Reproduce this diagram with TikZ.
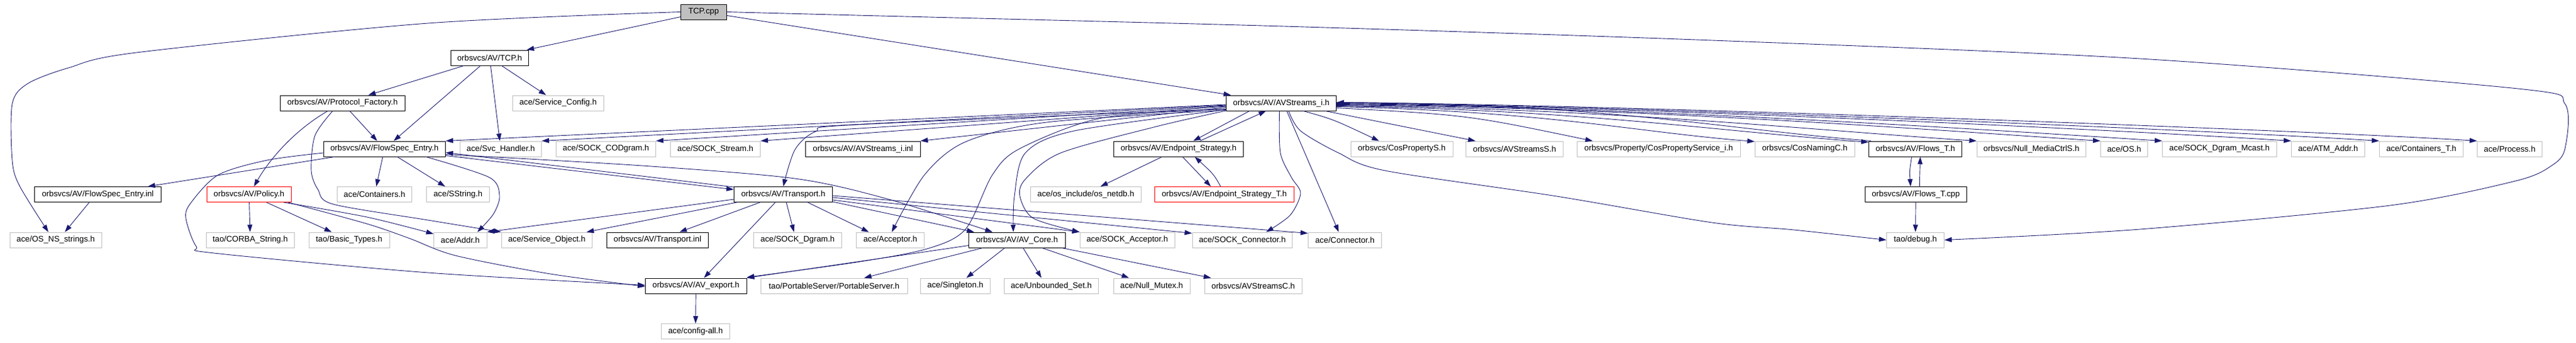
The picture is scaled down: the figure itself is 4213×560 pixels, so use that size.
\documentclass[tikz,border=0pt]{standalone}
\usepackage{fontspec}
\setmainfont{Liberation Sans}
\usetikzlibrary{arrows.meta}
\definecolor{navy}{HTML}{191970}
\definecolor{gbord}{HTML}{BFBFBF}
\definecolor{gfill}{HTML}{BFBFBF}
\tikzset{
  nd/.style={rectangle, minimum height=25pt, inner sep=0pt, anchor=west, line width=1pt,
    font=\fontsize{13.3pt}{15pt}\selectfont},
  doc/.style={nd, draw=black},
  ext/.style={nd, draw=gbord},
  trunc/.style={nd, draw=red},
  root/.style={nd, draw=black, fill=gfill},
  edg/.style={draw=navy, line width=0.9pt, -{Triangle[length=12pt,width=8pt]}},
}
\begin{document}
\begin{tikzpicture}[x=1pt,y=-1pt]
\useasboundingbox (0,0) rectangle (4213,560);
% row 0
\node[root, minimum width=74.5pt] (tcpcpp) at (1113,19.5) {TCP.cpp};
% row 1
\node[doc, minimum width=127.4pt] (tcph) at (736.6,94.5) {orbsvcs/AV/TCP.h};
% row 2
\node[doc, minimum width=204pt] (pf) at (457.6,168.5) {orbsvcs/AV/Protocol\_Factory.h};
\node[ext, minimum width=149.5pt] (sconf) at (837.5,168.5) {ace/Service\_Config.h};
\node[doc, minimum width=180pt] (avi) at (2005,168.5) {orbsvcs/AV/AVStreams\_i.h};
% row 3
\node[doc, minimum width=199.4pt] (fs) at (528.6,243.5) {orbsvcs/AV/FlowSpec\_Entry.h};
\node[ext, minimum width=133pt] (svc) at (752,243.5) {ace/Svc\_Handler.h};
\node[ext, minimum width=163pt] (cod) at (909,243.5) {ace/SOCK\_CODgram.h};
\node[ext, minimum width=147pt] (sstream) at (1096,243.5) {ace/SOCK\_Stream.h};
\node[doc, minimum width=187.5pt] (inl) at (1317,243.5) {orbsvcs/AV/AVStreams\_i.inl};
\node[doc, minimum width=212pt] (es) at (1821,243.5) {orbsvcs/AV/Endpoint\_Strategy.h};
\node[ext, minimum width=167pt] (cps) at (2208.5,243.5) {orbsvcs/CosPropertyS.h};
\node[ext, minimum width=159pt] (avss) at (2397,243.5) {orbsvcs/AVStreamsS.h};
\node[ext, minimum width=266.5pt] (cpsi) at (2579,243.5) {orbsvcs/Property/CosPropertyService\_i.h};
\node[ext, minimum width=163pt] (cnc) at (2869.6,243.5) {orbsvcs/CosNamingC.h};
\node[doc, minimum width=152pt] (ft) at (3056,243.5) {orbsvcs/AV/Flows\_T.h};
\node[ext, minimum width=178.4pt] (nmc) at (3232.6,243.5) {orbsvcs/Null\_MediaCtrlS.h};
\node[ext, minimum width=77pt] (os) at (3435,243.5) {ace/OS.h};
\node[ext, minimum width=187pt] (mcast) at (3536,243.5) {ace/SOCK\_Dgram\_Mcast.h};
\node[ext, minimum width=120pt] (atm) at (3747,243.5) {ace/ATM\_Addr.h};
\node[ext, minimum width=137pt] (ctt) at (3891,243.5) {ace/Containers\_T.h};
\node[ext, minimum width=106pt] (proc) at (4051,243.5) {ace/Process.h};
% row 4
\node[doc, minimum width=207pt] (fsinl) at (56,318) {orbsvcs/AV/FlowSpec\_Entry.inl};
\node[trunc, minimum width=138.5pt] (pol) at (337.5,318) {orbsvcs/AV/Policy.h};
\node[ext, minimum width=122pt] (cont) at (551,318) {ace/Containers.h};
\node[ext, minimum width=103pt] (sstr) at (697,318) {ace/SString.h};
\node[doc, minimum width=161pt] (tr) at (1200,318) {orbsvcs/AV/Transport.h};
\node[ext, minimum width=180.6pt] (netdb) at (1685,318) {ace/os\_include/os\_netdb.h};
\node[trunc, minimum width=227.6pt] (est) at (1888,318) {orbsvcs/AV/Endpoint\_Strategy\_T.h};
\node[doc, minimum width=166.5pt] (ftcpp) at (3049.5,318) {orbsvcs/AV/Flows\_T.cpp};
% row 5
\node[ext, minimum width=150pt] (osns) at (15.6,392.5) {ace/OS\_NS\_strings.h};
\node[ext, minimum width=144.4pt] (cstr) at (336.6,392.5) {tao/CORBA\_String.h};
\node[ext, minimum width=132pt] (btypes) at (504.5,392.5) {tao/Basic\_Types.h};
\node[ext, minimum width=86.5pt] (addr) at (709,392.5) {ace/Addr.h};
\node[ext, minimum width=148.4pt] (sobj) at (819.6,392.5) {ace/Service\_Object.h};
\node[doc, minimum width=165.6pt] (trinl) at (992,392.5) {orbsvcs/AV/Transport.inl};
\node[ext, minimum width=144pt] (dgram) at (1232,392.5) {ace/SOCK\_Dgram.h};
\node[ext, minimum width=111pt] (acc) at (1400,392.5) {ace/Acceptor.h};
\node[doc, minimum width=157.5pt] (core) at (1584,392.5) {orbsvcs/AV/AV\_Core.h};
\node[ext, minimum width=155pt] (sacc) at (1765.6,392.5) {ace/SOCK\_Acceptor.h};
\node[ext, minimum width=163.5pt] (scon) at (1949.5,392.5) {ace/SOCK\_Connector.h};
\node[ext, minimum width=120pt] (conn) at (2139,392.5) {ace/Connector.h};
\node[ext, minimum width=94pt] (dbg) at (3085,392.5) {tao/debug.h};
% row 6
\node[doc, minimum width=165.5pt] (avx) at (1055,467.5) {orbsvcs/AV/AV\_export.h};
\node[ext, minimum width=239.5pt] (pserv) at (1244,467.5) {tao/PortableServer/PortableServer.h};
\node[ext, minimum width=114pt] (single) at (1505,467.5) {ace/Singleton.h};
\node[ext, minimum width=154.5pt] (uset) at (1641.5,467.5) {ace/Unbounded\_Set.h};
\node[ext, minimum width=125pt] (nmut) at (1820.5,467.5) {ace/Null\_Mutex.h};
\node[ext, minimum width=159pt] (avsc) at (1969.6,467.5) {orbsvcs/AVStreamsC.h};
% row 7
\node[ext, minimum width=112pt] (cfg) at (1081,542) {ace/config-all.h};

% ---- TCP.cpp
\draw[edg] (tcpcpp) -- (tcph);
\draw[edg] (tcpcpp) -- (avi);
\draw[edg] plot[smooth, tension=0.5] coordinates {(tcpcpp.west) (700,38) (223,86) (112,111) (45,137) (20,170) (20,262) (32,304) ([xshift=-12pt]osns.north)};
\draw[edg] plot[smooth, tension=0.5] coordinates {(tcpcpp.east) (1400,25) (2100,43) (2800,66) (3500,96) (4118,145) (4195,170) (4195,243) (4173,271) (4114,296) (3909,336) (3500,375) (dbg.east)};
% ---- TCP.h
\draw[edg] (tcph) -- (pf);
\draw[edg] (tcph) -- (fs);
\draw[edg] (tcph) -- (sconf);
\draw[edg] (tcph) -- (svc);
% ---- Protocol_Factory
\draw[edg] (pf) -- (fs);
\draw[edg] ([xshift=-24pt]pf.south) .. controls (480,214) and (440,262) .. ([xshift=8pt]pol.north);
\draw[edg] plot[smooth, tension=0.5] coordinates {([xshift=-16pt]pf.south) (515,222) (509,279) (520,310) (545,334) (700,360) (sobj.north west)};
% ---- FlowSpec_Entry
\draw[edg] (fs) -- (fsinl);
\draw[edg] (fs) -- (cont);
\draw[edg] (fs) -- (sstr);
\draw[edg] plot[smooth, tension=0.5] coordinates {([xshift=68pt]fs.south) (800,290) (817,320) (807,350) ([xshift=28pt]addr.north)};
\draw[edg] plot[smooth, tension=0.5] coordinates {([yshift=-6.5pt]fs.west) (437,262) (357,286) (312,332) (304,357) (321,403) (350,414) (700,446) ([yshift=1pt]avx.west)};
\draw[edg] ([yshift=2pt]fs.south east) -- ([yshift=8pt]tr.west);
\draw[edg] ([yshift=12pt]tr.west) -- ([yshift=-6pt]fs.east);
\draw[edg] plot[smooth, tension=0.5] coordinates {([yshift=-9pt]fs.east) (1050,271) (1300,292) (1450,325) ([xshift=-40pt]core.north)};
% ---- Policy
\draw[edg] (pol) -- (cstr);
\draw[edg] (pol) -- (btypes);
\draw[edg] plot[smooth, tension=0.5] coordinates {([xshift=57pt]pol.south) (600,355) ([yshift=-3pt]addr.north west)};
\draw[edg] plot[smooth, tension=0.5] coordinates {([xshift=64pt]pol.south) (600,366) (670,390) (745,418) (900,448) ([yshift=-1pt]avx.west)};
% ---- Transport
\draw[edg] ([yshift=-8pt]tr.west) -- (addr.north east);
\draw[edg] ([xshift=-76pt]tr.south) -- ([xshift=65pt]sobj.north);
\draw[edg] ([xshift=-38pt]tr.south) -- ([xshift=36pt]trinl.north);
\draw[edg] ([xshift=5pt]tr.south) -- ([xshift=-6pt]dgram.north);
\draw[edg] ([xshift=-13pt]tr.south) -- ([xshift=13pt]avx.north);
\draw[edg] ([xshift=40pt]tr.south) -- ([xshift=-35pt]acc.north);
\draw[edg] ([yshift=-12pt]tr.east) -- ([xshift=-70pt]core.north);
\draw[edg] ([yshift=-9pt]tr.east) -- (sacc.north west);
\draw[edg] ([yshift=-5pt]tr.east) -- ([yshift=-2pt]scon.north west);
\draw[edg] ([yshift=-2pt]tr.east) -- ([yshift=-2pt]conn.north west);
% ---- AVStreams_i.h, leftwards
\draw[edg] ([yshift=-2.5pt]avi.west) -- (fs.north east);
\draw[edg] ([yshift=-3.5pt]avi.west) -- (svc.north east);
\draw[edg] ([yshift=-4.5pt]avi.west) -- (cod.north east);
\draw[edg] ([yshift=-5.5pt]avi.west) -- (sstream.north east);
\draw[edg] ([yshift=-7pt]avi.west) -- (inl.north east);
\draw[edg] plot[smooth, tension=0.5] coordinates {([yshift=-9.5pt]avi.west) (1400,204) (1334,215) (1300,245) (tr.north)};
\draw[edg] plot[smooth, tension=0.5] coordinates {([yshift=-11.5pt]avi.west) (1712,200) (1579,232) (1512,286) ([xshift=2.5pt]acc.north)};
\draw[edg] plot[smooth, tension=0.5] coordinates {([yshift=-10pt]avi.west) (1802,193) (1668,243) (1623,286) (1579,375) (1516,407) (1400,429) ([yshift=1pt]avx.north east)};
\draw[edg] plot[smooth, tension=0.5] coordinates {([yshift=-11pt]avi.west) (1757,214) (1677,250) (1659,321) ([xshift=-6pt]core.north)};
\draw[edg] plot[smooth, tension=0.5] coordinates {([yshift=-12.5pt]avi.west) (1891,207) (1735,250) (1677,293) (1668,321) (1690,357) (sacc.north west)};
% ---- Endpoint strategy
\draw[edg] ([xshift=-52pt]avi.south) -- ([xshift=24pt]es.north);
\draw[edg] ([xshift=35pt]es.north) -- ([xshift=-25pt]avi.south);
\draw[edg] ([xshift=-27pt]es.south) -- ([xshift=24pt]netdb.north);
\draw[edg] ([xshift=6.5pt]es.south) -- ([xshift=-22pt]est.north);
\draw[edg] ([xshift=-6pt]est.north) .. controls (1985,285) .. ([xshift=26.5pt]es.south);
% ---- AVStreams_i.h, downwards right
\draw[edg] plot[smooth, tension=0.5] coordinates {([xshift=-3pt]avi.south) (2094,250) (2112,290) (2127,316) (2110,352) ([xshift=39pt]scon.north)};
\draw[edg] ([xshift=9pt]avi.south) -- ([xshift=-10pt]conn.north);
\draw[edg] plot[smooth, tension=0.5] coordinates {([xshift=12pt]avi.south) (2127,214) (2189,250) (2265,279) (2546,321) (2800,364) (2934,376) (dbg.west)};
\draw[edg] ([xshift=36pt]avi.south) .. controls (2180,195) .. ([xshift=-37pt]cps.north);
\draw[edg] ([xshift=72pt]avi.south) -- ([xshift=-64pt]avss.north);
\draw[edg] ([yshift=-8pt]avi.east) .. controls (2400,188) .. ([xshift=-108pt]cpsi.north);
\draw[edg] ([yshift=-6pt]avi.east) .. controls +(350,8) and +(-200,-16) .. ([yshift=-1pt]cnc.north west);
\draw[edg] ([yshift=-5pt]avi.east) .. controls +(400,6) and +(-250,-18) .. ([yshift=-2pt]ft.north west);
\draw[edg] ([yshift=-4pt]avi.east) .. controls +(450,5) and +(-250,-16) .. (nmc.north west);
\draw[edg] ([yshift=-3pt]avi.east) .. controls +(500,4) and +(-250,-16) .. (os.north west);
\draw[edg] ([yshift=-2pt]avi.east) .. controls +(500,4) and +(-250,-16) .. (mcast.north west);
\draw[edg] ([yshift=-1pt]avi.east) .. controls +(500,4) and +(-250,-16) .. (atm.north west);
\draw[edg] (avi.east) .. controls +(500,4) and +(-250,-16) .. (ctt.north west);
\draw[edg] ([yshift=1pt]avi.east) .. controls +(500,4) and +(-250,-16) .. (proc.north west);
\draw[edg] ([xshift=4pt]ft.north west) .. controls +(-250,-20) and +(450,3) .. ([yshift=1pt]avi.east);
% ---- Flows_T
\draw[edg] ([xshift=-6pt]ft.south) .. controls (3123,280) .. ([xshift=-8.5pt]ftcpp.north);
\draw[edg] ([xshift=6pt]ftcpp.north) -- ([xshift=8pt]ft.south);
\draw[edg] (ftcpp) -- (dbg);
% ---- AV_Core
\draw[edg] ([xshift=-56pt]core.south) -- ([xshift=49pt]pserv.north);
\draw[edg] ([xshift=-20pt]core.south) -- ([xshift=18pt]single.north);
\draw[edg] ([xshift=10pt]core.south) -- ([xshift=-16pt]uset.north);
\draw[edg] ([xshift=41pt]core.south) -- ([xshift=-37pt]nmut.north);
\draw[edg] ([xshift=-6pt]core.south east) -- ([xshift=-69pt]avsc.north);
\draw[edg] ([yshift=-9pt]core.west) -- (avx.north east);
% ---- others
\draw[edg] (avx) -- (cfg);
\draw[edg] ([xshift=-14pt]fsinl.south) -- ([xshift=15pt]osns.north);
\end{tikzpicture}
\end{document}
